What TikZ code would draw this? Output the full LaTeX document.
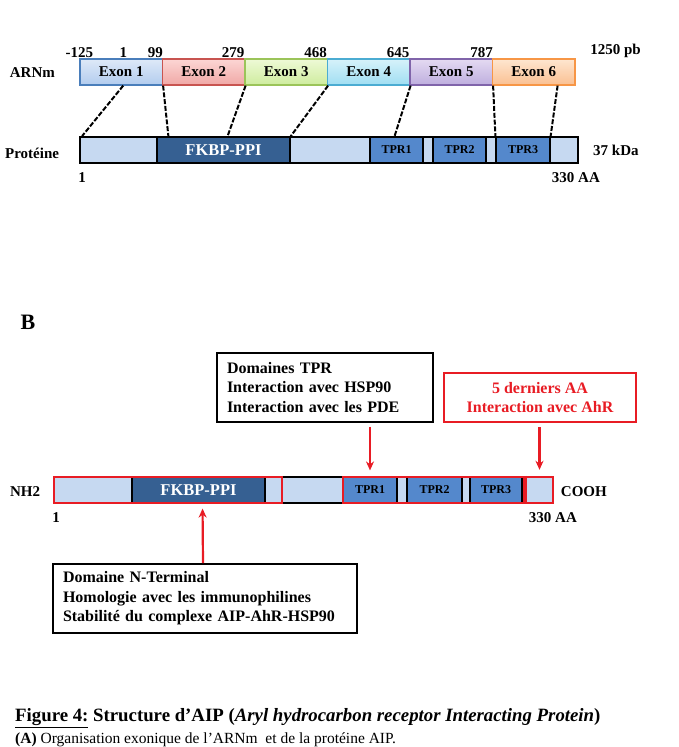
\documentclass[tikz,border=0pt]{standalone}
\usepackage{fontspec}
\setmainfont{Liberation Serif}
\usepackage{tikz}
\usetikzlibrary{calc}
\usetikzlibrary{shapes.geometric, arrows.meta}

\definecolor{protlight}{RGB}{198,217,241}
\definecolor{fkbpblue}{RGB}{54,96,146}
\definecolor{tprblue}{RGB}{84,136,204}
\definecolor{aipred}{RGB}{232,28,36}

\tikzstyle{exon} = [rectangle, 
minimum width=82.5pt, 
minimum height=26pt, inner sep=0pt, 
line width=1.2pt, 
font=\bfseries\fontsize{15pt}{18pt}\selectfont]
\tikzstyle{protbar} = [rectangle, minimum height=26pt, inner sep=0pt, 
draw=black, line width=1.8pt, fill=protlight]
\tikzstyle{fkbp} = [rectangle, minimum height=26pt, inner sep=0pt, 
draw=black, line width=1.2pt, fill=fkbpblue, text=white, 
font=\bfseries\fontsize{16.5pt}{18pt}\selectfont]
\tikzstyle{tpr} = [rectangle, minimum height=26pt, inner sep=0pt, 
draw=black, line width=1.2pt, fill=tprblue, 
font=\bfseries\fontsize{12pt}{14pt}\selectfont]
\tikzstyle{redframe} = [rectangle, minimum height=26pt, inner sep=0pt, 
draw=aipred, line width=2.4pt]
\tikzstyle{lbl} = [inner sep=1pt, font=\bfseries\fontsize{15pt}{18pt}\selectfont]
\tikzstyle{infobox} = [rectangle, draw=black, line width=1.6pt, 
align=left, inner xsep=10pt, minimum height=69pt, 
font=\bfseries\fontsize{16pt}{19.5pt}\selectfont]
\tikzstyle{exonlink} = [line width=2pt, dash pattern=on 5pt off 1.8pt]
\tikzstyle{redarrow} = [line width=2.2pt, -{Stealth[length=9pt, width=8pt]}, draw=aipred, fill=aipred]

\begin{document}
\begin{tikzpicture} [x=1pt, y=-1pt]

    \useasboundingbox (0,0) rectangle (678,747);

    % (A) the exons of the mRNA
    \node (exon1) [exon, draw={rgb,255:red,74;green,126;blue,187}, top color={rgb,255:red,222;green,233;blue,248}, bottom color={rgb,255:red,178;green,204;blue,238}] at (121.25,72) {Exon 1};
    \node (exon2) [exon, draw={rgb,255:red,200;green,84;blue,80}, top color={rgb,255:red,252;green,214;blue,212}, bottom color={rgb,255:red,240;green,168;blue,166}] at ($(exon1)+(82.5,0)$) {Exon 2};
    \node (exon3) [exon, draw={rgb,255:red,155;green,196;blue,89}, top color={rgb,255:red,238;green,250;blue,214}, bottom color={rgb,255:red,206;green,236;blue,158}] at ($(exon2)+(82.5,0)$) {Exon 3};
    \node (exon4) [exon, draw={rgb,255:red,75;green,172;blue,210}, top color={rgb,255:red,214;green,242;blue,250}, bottom color={rgb,255:red,160;green,222;blue,242}] at ($(exon3)+(82.5,0)$) {Exon 4};
    \node (exon5) [exon, draw={rgb,255:red,128;green,100;blue,170}, top color={rgb,255:red,228;green,218;blue,242}, bottom color={rgb,255:red,190;green,174;blue,222}] at ($(exon4)+(82.5,0)$) {Exon 5};
    \node (exon6) [exon, draw={rgb,255:red,247;green,150;blue,70}, top color={rgb,255:red,254;green,230;blue,208}, bottom color={rgb,255:red,250;green,192;blue,146}] at ($(exon5)+(82.5,0)$) {Exon 6};

    % positions in pb
    \node (n125) [lbl, anchor=south] at (exon1.north west) {-125};
    \node (n1) [lbl, anchor=south] at ($(exon1.north)+(2,0)$) {1};
    \node (n99) [lbl, anchor=south east] at ($(exon1.north east)+(1,0)$) {99};
    \node (n279) [lbl, anchor=south east] at (exon2.north east) {279};
    \node (n468) [lbl, anchor=south east] at (exon3.north east) {468};
    \node (n645) [lbl, anchor=south east] at (exon4.north east) {645};
    \node (n787) [lbl, anchor=south east] at ($(exon5.north east)+(1,0)$) {787};
    \node (npb) [lbl, anchor=south] at ($(exon6.north east)+(40,0)$) {1250 pb};
    \node (arnm) [lbl] at ($(exon1.west)+(-47,1)$) {ARNm};

    % (A) the protein
    \node (protA) [protbar, minimum width=498pt] at (329,150) {};
    \node (fkbpA) [fkbp, minimum width=133pt] at (223.5,150) {FKBP-PPI};
    \node (tprAi) [tpr, minimum width=53pt] at (396.5,150) {TPR1};
    \node (tprAii) [tpr, minimum width=53pt] at (459.5,150) {TPR2};
    \node (tprAiii) [tpr, minimum width=54pt] at (523,150) {TPR3};

    \node (prot) [lbl] at ($(protA.west)+(-47,3)$) {Prot\'eine};
    \node (kda) [lbl] at ($(protA.east)+(37,0)$) {37 kDa};
    \node (startA) [lbl] at ($(protA.south west)+(3,14)$) {1};
    \node (endA) [lbl] at ($(protA.south east)+(-3,14)$) {330 AA};

    % the exon boundaries
    \draw [exonlink] ($(exon1.south)+(2,0)$) -- ($(protA.north west)+(3,0)$);
    \draw [exonlink] (exon1.south east) -- ($(fkbpA.north west)+(12,0)$);
    \draw [exonlink] (exon2.south east) -- ($(fkbpA.north)+(4,0)$);
    \draw [exonlink] (exon3.south east) -- (fkbpA.north east);
    \draw [exonlink] (exon4.south east) -- ($(tprAi.north)+(-2,0)$);
    \draw [exonlink] (exon5.south east) -- (tprAiii.north west);
    \draw [exonlink] ($(exon6.south east)+(-18,0)$) -- (tprAiii.north east);

    % (B) the domains
    \node (labelB) [font=\bfseries\fontsize{22pt}{24pt}\selectfont] at (28,322) {B};

    \node (barB) [protbar, minimum width=499pt] at (303.5,490) {};
    \node (fkbpB) [fkbp, minimum width=133pt] at (198.5,490) {FKBP-PPI};
    \node (tprBi) [tpr, minimum width=54pt] at (370,490) {TPR1};
    \node (tprBii) [tpr, minimum width=55pt] at (434.5,490) {TPR2};
    \node (tprBiii) [tpr, minimum width=52pt] at (496,490) {TPR3};

    \node (ntframe) [redframe, minimum width=228pt] at (168,490) {};
    \node (tprframe) [redframe, minimum width=181pt] at (433.5,490) {};
    \draw [line width=1.5pt] ($(tprframe.north east)+(1.5,0)$) -- ($(tprframe.south east)+(1.5,0)$);
    \node (lastB) [redframe, minimum width=27pt] at (539.5,490) {};

    \node (nh2) [lbl] at ($(barB.west)+(-28,2)$) {NH2};
    \node (cooh) [lbl] at ($(barB.east)+(30,2)$) {COOH};
    \node (startB) [lbl] at ($(barB.south west)+(3,14)$) {1};
    \node (endB) [lbl] at ($(barB.south east)+(-1,14)$) {330 AA};

    % annotations
    \node (tprbox) [infobox, text width=196pt] at (325,387.5) {Domaines TPR\\Interaction avec HSP90\\Interaction avec les PDE};
    \node (ahrbox) [infobox, draw=aipred, line width=2pt, text=aipred, align=center, minimum width=192pt, minimum height=49pt] at (540,397.5) {5 derniers AA\\Interaction avec AhR};
    \node (ntbox) [infobox, text width=284pt] at (205,598.5) {Domaine N-Terminal\\Homologie avec les immunophilines\\Stabilit\'e du complexe AIP-AhR-HSP90};

    \draw [redarrow, shorten <=4pt, shorten >=6pt] (tprbox.south -| tprBi.north) -- (tprBi.north);
    \draw [redarrow, shorten <=4pt, shorten >=6pt] (ahrbox.south -| lastB.north) -- (lastB.north);
    \draw [redarrow, shorten >=5pt] ($(ntbox.north)+(-2,0)$) -- ($(fkbpB.south)+(4,0)$);

    % caption
    \node (caption) [anchor=west, inner sep=0pt, font=\bfseries\fontsize{18.8pt}{22pt}\selectfont] at (15,718) {\underline{Figure 4:} Structure d’AIP (\textit{Aryl hydrocarbon receptor Interacting Protein})};
    \node (legendA) [anchor=west, inner sep=0pt, font=\fontsize{15.5pt}{18pt}\selectfont] at (15,739.5) {\textbf{(A)} Organisation exonique de l’ARNm\ \ et de la prot\'eine AIP.};

\end{tikzpicture}
\end{document}
